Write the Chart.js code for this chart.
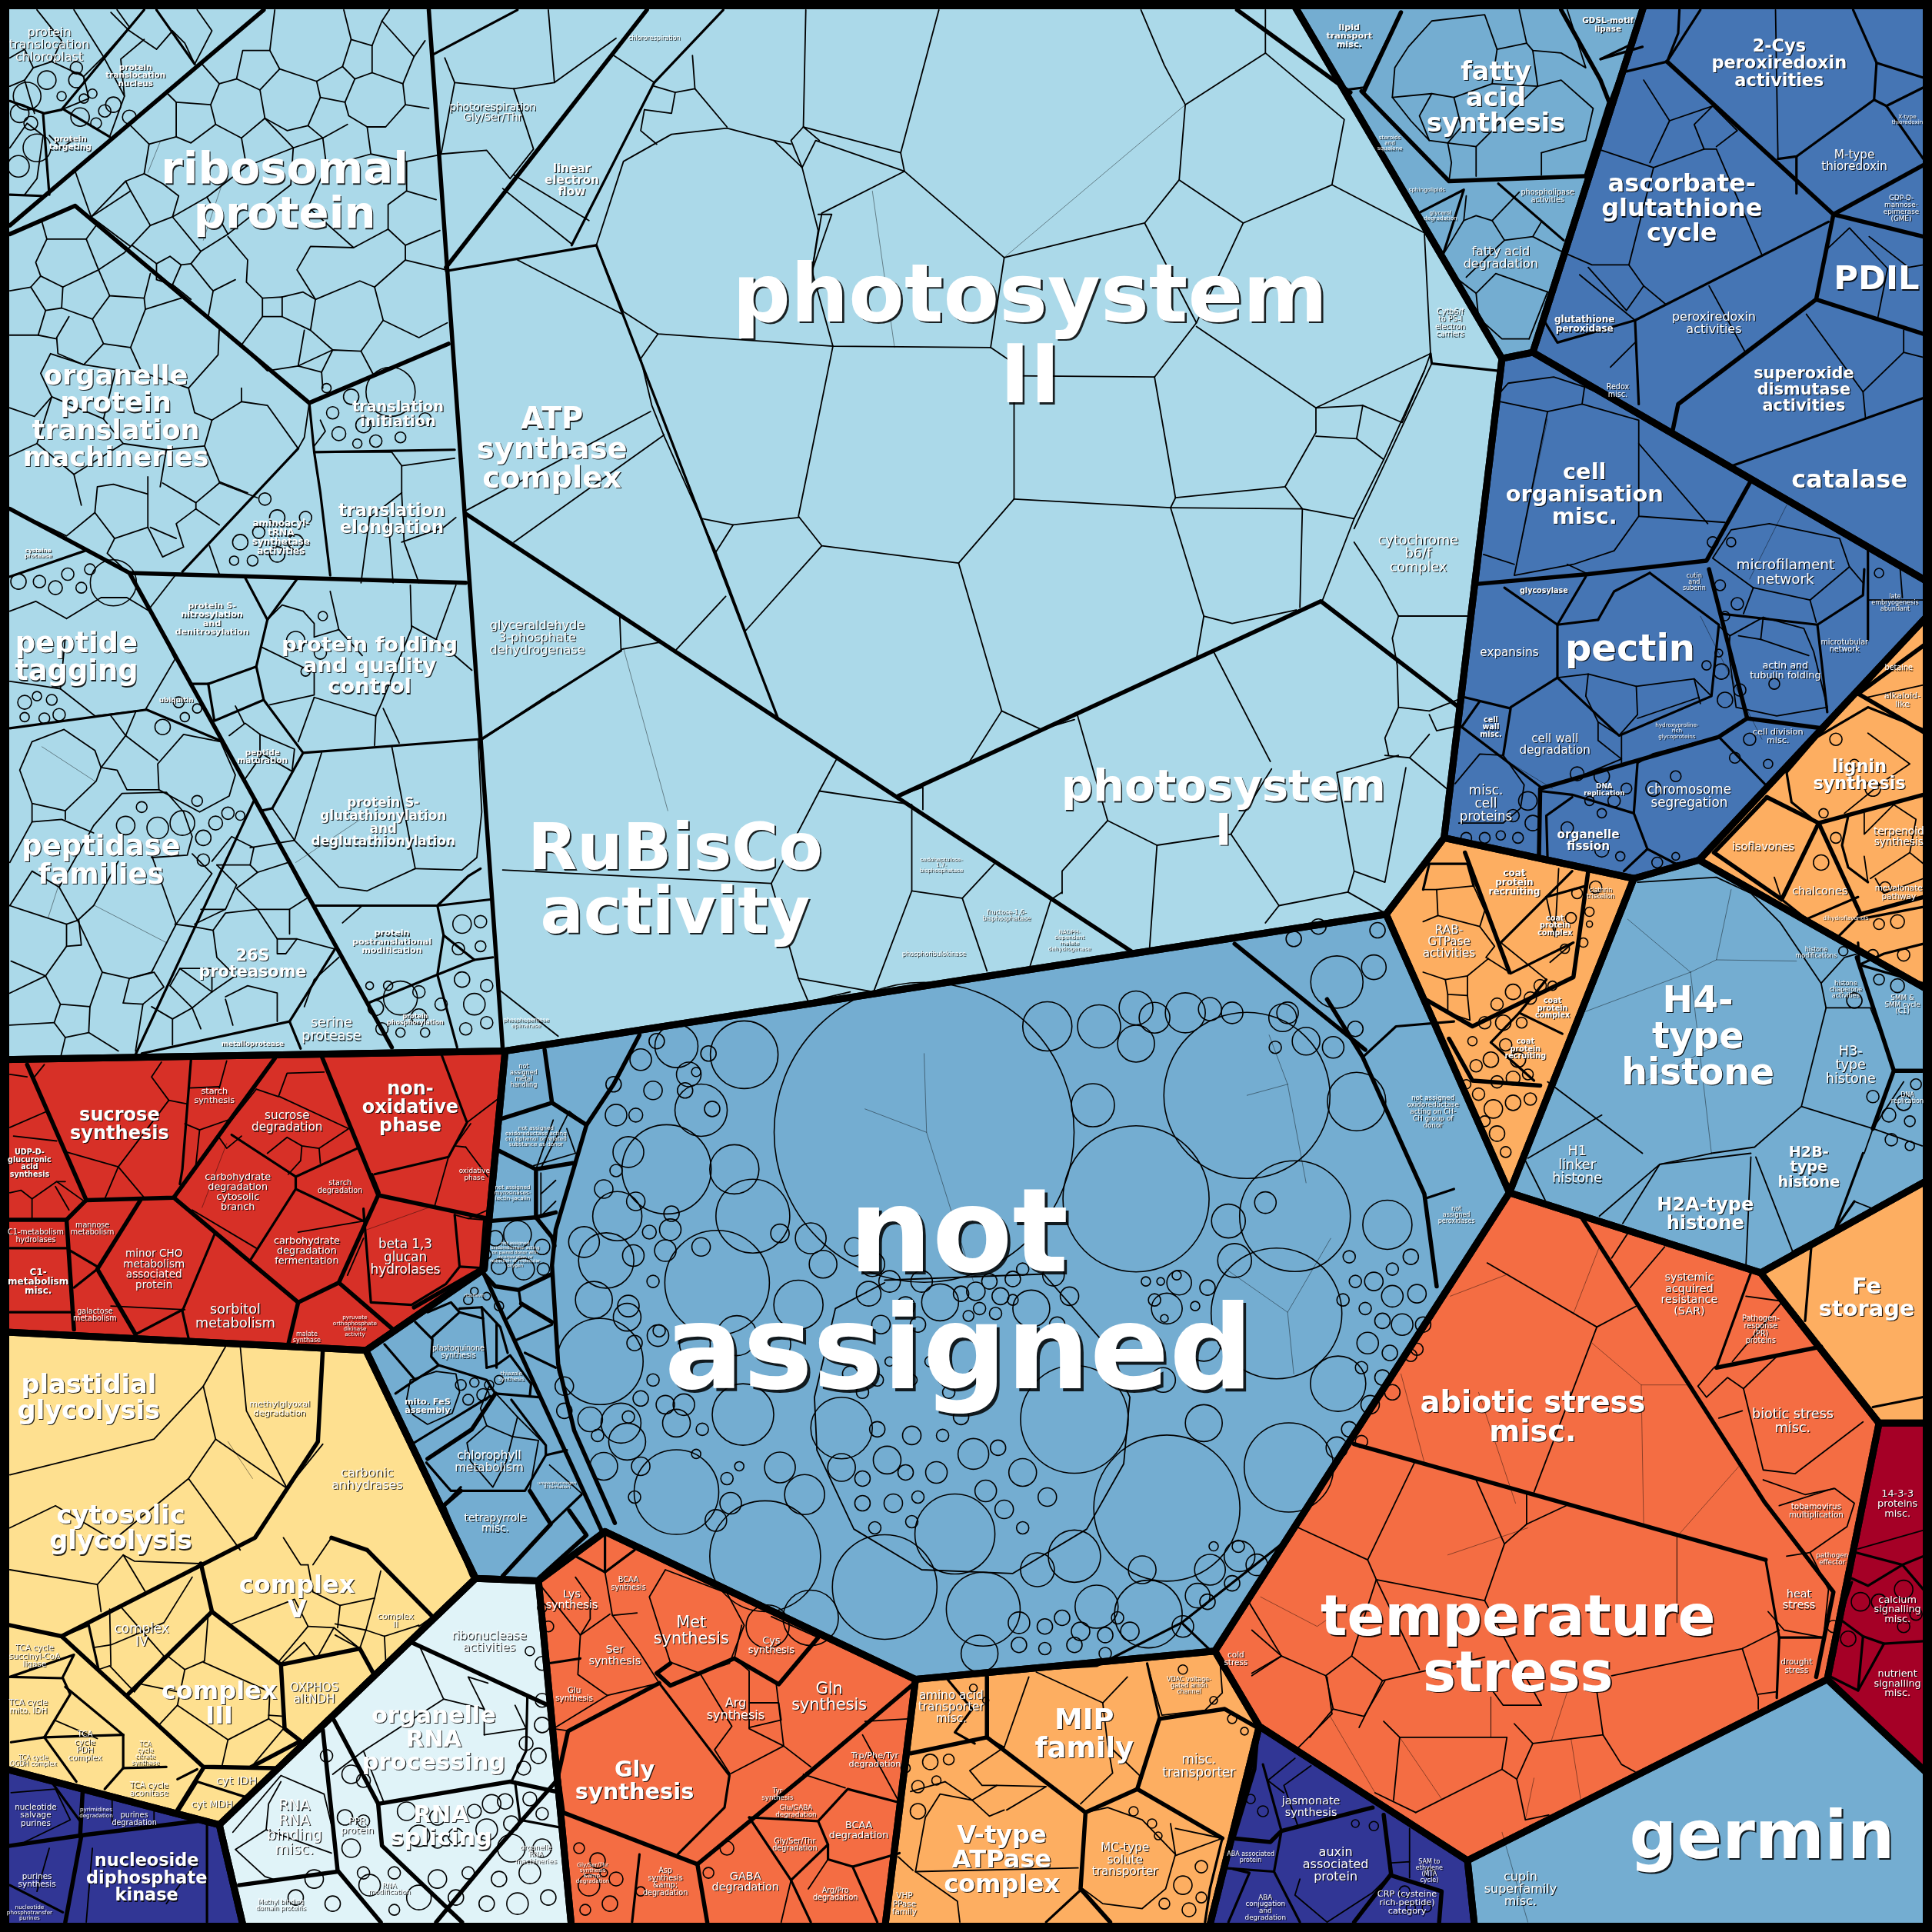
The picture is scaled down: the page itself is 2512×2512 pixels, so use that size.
<!DOCTYPE html>
<html>
<head>
<meta charset="utf-8">
<title>proteomap</title>
<script src="https://cdn.jsdelivr.net/npm/chart.js@4/dist/chart.umd.min.js"></script>
<style>
html, body { margin: 0; padding: 0; background: #000; }
canvas { display: block; }
</style>
</head>
<body>
<canvas id="map" width="2512" height="2512"></canvas>
<script>
// group colours
const groupColors = ['#abd9e9', '#74add1', '#74add1', '#4575b4', '#4575b4', '#fdae61', '#fdae61', '#74add1', '#fdae61',
  '#f46d43', '#a50026', '#74add1', '#d73027', '#fee090', '#313695', '#e0f3f8', '#f46d43', '#fdae61', '#313695'];

// outline of every top level group, x,y,x,y...
const groupShapes = [
  [2,2, 1049,2, 1219,291, 1172,680, 1125,742, 410,853, 2,860],
  [1049,2, 1335,2, 1244,286, 1219,291],
  [410,853, 1125,742, 1225,968, 986,1340, 743,1363, 491,1243, 437,1283, 386,1281, 297,1096, 393,1030],
  [1335,2, 1566,2, 1566,473, 1244,286],
  [1219,291, 1244,286, 1566,473, 1566,498, 1379,698, 1326,713, 1172,680],
  [1172,680, 1326,713, 1225,968, 1125,742],
  [1566,498, 1379,698, 1566,804],
  [1326,713, 1379,698, 1566,804, 1566,957, 1429,1033, 1225,968],
  [1429,1033, 1566,957, 1566,1155, 1525,1155],
  [1225,968, 1429,1033, 1525,1155, 1483,1363, 1191,1510, 1022,1401, 986,1340],
  [1525,1155, 1566,1155, 1566,1441, 1483,1363],
  [1191,1510, 1483,1363, 1566,1441, 1566,1566, 1197,1566],
  [2,860, 410,853, 393,1030, 297,1096, 2,1081],
  [2,1081, 297,1096, 386,1281, 178,1481, 2,1435],
  [2,1435, 178,1481, 198,1566, 2,1566],
  [178,1481, 386,1281, 437,1283, 464,1566, 198,1566],
  [437,1283, 491,1243, 743,1363, 718,1566, 464,1566],
  [743,1363, 986,1340, 1022,1401, 981,1566, 718,1566],
  [1022,1401, 1191,1510, 1197,1566, 981,1566]
];

// second level borders
const heavyLines = [
  [8,183, 214,8], [8,190, 61,167, 251,327, 364,279], [8,413, 105,465, 378,473], [105,465, 318,850],
  [348,8, 408,851], [525,8, 362,217], [378,417, 918,772], [729,646, 1072,488, 1184,574],
  [1105,74, 1176,147, 1287,143], [1107,74, 1137,10], [1267,8, 1299,65, 1306,83, 1287,143],
  [1004,8, 1096,75], [1353,50, 1488,174, 1561,134], [1488,174, 1474,243, 1362,328, 1357,352], [1474,243, 1561,271], [1488,174, 1561,192],
  [1198,474, 1289,466, 1385,455, 1420,392], [1387,462, 1418,583, 1478,591], [1418,583, 1395,598, 1250,640, 1249,695],
  [1508,563, 1561,524], [1508,563, 1561,594], [1476,668, 1510,742, 1561,728], [1434,647, 1476,668, 1561,645], [1434,647, 1391,692, 1446,730, 1476,668],
  [1189,692, 1225,789], [1289,707, 1277,793, 1195,833, 1155,810], [1176,843, 1195,877, 1250,881],
  [1283,987, 1432,1219, 1488,1292, 1474,1361], [1099,1172, 1433,1266], [1393,1110, 1478,1093],
  [1507,777, 1537,869, 1520,916], [1538,869, 1560,869],
  [22,864, 70,974, 141,972, 223,859], [141,972, 242,1057, 275,1041, 307,970, 261,857], [307,970, 396,989], [275,1041, 319,1079], [242,1057, 234,1091], [336,1061, 390,1030],
  [70,974, 54,990, 7,990], [54,990, 60,1079], [114,974, 79,1030, 110,1083],
  [50,1328, 207,1248, 258,1170, 262,1095], [8,1319, 50,1328, 165,1434, 224,1435], [165,1435, 144,1469], [172,1308, 228,1351, 231,1403, 244,1413, 204,1434], [172,1308, 103,1376], [172,1308, 163,1269], [228,1351, 292,1338, 303,1358],
  [269,1248, 298,1258, 351,1312],
  [8,1498, 70,1489, 160,1478], [66,1490, 53,1560], [67,1455, 65,1490],
  [334,1333, 445,1384], [262,1404, 274,1518, 309,1560], [194,1530, 274,1519], [271,1396, 307,1464, 414,1446, 451,1454], [307,1465, 310,1498, 375,1560], [451,1446, 402,1502, 354,1560],
  [566,1513, 656,1439, 741,1367], [457,1471, 566,1513, 574,1560], [535,1366, 461,1405, 453,1441, 457,1471], [544,1350, 533,1358, 544,1368, 568,1358, 596,1346, 632,1367, 664,1329],
  [801,1361, 801,1410, 739,1423], [801,1410, 881,1471, 877,1533, 901,1560], [923,1452, 992,1492], [923,1452, 941,1395, 994,1387, 1022,1403], [881,1471, 923,1452],
  [1021,1400, 1018,1436, 1001,1492, 1031,1495, 1040,1486, 1114,1467], [1123,1473, 1129,1521, 1099,1560], [1129,1522, 1170,1535, 1168,1560],
  [519,840, 498,880, 476,913, 451,998, 448,1027, 453,1107, 466,1161, 499,1236], [1077,811, 1106,858, 1156,969, 1166,1044],
  [391,1030, 489,1244], [442,852, 448,895, 407,908], [448,895, 476,913], [405,934, 435,949, 465,944], [435,951, 435,988], [397,991, 435,988, 448,1004, 450,1011], [435,988, 451,984], [391,1032, 402,1044, 421,1047, 448,1034], [423,1058, 448,1073], [347,1184, 383,1160, 402,1131], [374,1210, 360,1222, 383,1279], [430,1210, 447,1237, 408,1279], [462,1226, 476,1246, 436,1282],
  [1002,766, 1108,852]
];

// third level borders
const mediumLines = [
  [127,8, 158,52], [52,89, 89,111], [50,89, 36,92, 8,82], [35,93, 40,158], [8,158, 34,159], [50,89, 117,8],
  [251,327, 255,367, 369,365], [255,367, 260,400, 268,467], [242,364, 148,464], [8,591, 119,576, 181,602], [206,650, 109,858],
  [8,468, 69,447], [241,470, 217,503, 208,541, 214,568, 246,611, 221,656, 212,658], [199,469, 217,503], [208,541, 169,555, 156,555], [214,568, 174,585, 169,555],
  [246,611, 388,600], [391,600, 449,562], [255,735, 355,735, 380,711, 390,705], [355,735, 360,759, 355,791, 299,814], [360,759, 385,779, 400,777], [355,735, 398,730], [355,791, 371,850], [355,791, 385,779], [272,770, 235,829, 115,855], [235,829, 244,851],
  [484,199, 631,582], [362,220, 484,199], [587,8, 531,67, 464,199], [350,45, 420,8], [504,528, 392,599], [1161,287, 1162,295, 1216,301],
  [1092,73, 1107,71, 1122,40, 1137,10], [1153,172, 1188,154, 1171,207], [1216,149, 1269,195], [1307,81, 1324,36, 1299,48], [1299,48, 1333,38],
  [1353,50, 1380,8], [1353,50, 1362,27, 1363,8], [1353,50, 1320,58], [1443,129, 1458,127, 1521,81, 1523,51, 1504,8], [1458,127, 1458,157], [1521,81, 1531,86, 1561,129], [1523,51, 1561,63], [1531,86, 1561,71],
  [1406,378, 1561,323], [1327,260, 1484,180], [1327,260, 1330,328], [1253,260, 1264,278, 1327,260],
  [1221,477, 1264,507, 1287,468], [1264,507, 1264,550, 1314,597, 1389,565, 1395,507, 1339,465], [1297,503, 1310,480, 1339,465], [1264,507, 1297,503], [1226,574, 1264,550], [1185,589, 1252,640], [1189,566, 1226,575, 1220,613], [1187,589, 1201,569],
  [1396,498, 1475,507, 1483,578], [1475,507, 1512,483, 1513,462], [1516,443, 1516,519], [1250,642, 1276,645, 1326,660, 1329,619], [1326,660, 1337,689, 1360,701, 1379,698], [1329,619, 1342,612, 1395,598, 1433,637], [1276,647, 1255,662, 1256,698], [1337,689, 1318,707],
  [1255,728, 1218,765], [1276,707, 1255,728, 1287,719], [1226,790, 1277,765], [1233,822, 1268,839], [1210,846, 1233,822, 1255,795], [1210,846, 1245,877], [1160,701, 1191,701, 1196,719], [1160,701, 1155,722],
  [1465,746, 1492,760, 1510,742], [1446,730, 1466,746, 1508,728], [1509,746, 1561,736], [1509,783, 1529,774, 1561,766], [1508,765, 1509,783, 1561,798], [1500,662, 1495,686, 1500,704, 1516,716],
  [1450,627, 1454,651, 1475,668], [1450,627, 1475,598, 1516,574, 1561,592],
  [1455,1016, 1489,998, 1512,936], [1489,998, 1505,975], [1470,1012, 1465,1072], [1520,1142, 1560,1134], [1421,1033, 1393,1110],
  [1433,1266, 1444,1329, 1442,1378], [1444,1329, 1480,1329], [1506,1260, 1544,1270, 1561,1263], [1544,1270, 1516,1287, 1503,1281], [1544,1270, 1561,1290], [1484,1360, 1508,1372, 1529,1334, 1561,1332], [1529,1334, 1512,1328, 1493,1314], [1512,1328, 1508,1372], [1503,1284, 1493,1314, 1487,1338],
  [1025,1432, 1040,1486], [1040,1486, 1034,1519, 1055,1560], [1001,1492, 992,1516, 1034,1519], [1001,1517, 1014,1520, 997,1560],
  [8,1013, 54,1013], [8,1065, 60,1065], [79,1030, 60,1045], [57,1015, 79,1028], [148,1063, 110,1083], [174,1002, 148,1064, 153,1086], [188,921, 240,955, 290,932], [240,955, 240,965, 295,991], [240,965, 203,1023], [304,953, 364,939, 379,911, 358,855], [302,953, 308,968],
  [369,986, 373,1028, 362,1042, 334,1059, 301,1057, 295,981], [373,1028, 390,1029, 393,990], [155,860, 148,949, 146,961],
  [50,1328, 72,1319, 80,1355], [100,1435, 135,1434], [100,1435, 85,1452], [100,1408, 100,1435], [100,1408, 36,1410, 9,1414], [36,1410, 62,1446], [36,1410, 45,1395, 57,1375, 51,1362, 9,1361], [51,1361, 60,1343, 8,1361], [53,1369, 100,1408], [144,1444, 160,1436], [201,1459, 160,1446, 145,1470], [201,1459, 224,1436],
  [41,1445, 65,1478], [168,1481, 168,1560], [8,1530, 51,1552], [428,1377, 427,1421, 415,1446], [418,1446, 422,1477], [422,1477, 454,1483],
  [467,1263, 491,1276, 515,1258], [491,1243, 491,1276], [445,1350, 471,1346], [550,1505, 588,1467, 592,1441, 535,1366], [519,1505, 513,1560],
  [608,1475, 664,1478, 688,1452, 730,1463], [664,1478, 672,1497, 642,1526, 608,1475], [672,1497, 672,1509, 692,1515, 730,1504], [692,1515, 712,1560], [642,1526, 658,1560],
  [769,1363, 789,1387, 775,1406, 791,1415], [992,1492, 982,1533, 978,1560], [877,1534, 849,1560], [931,1350, 941,1395],
  // not assigned, left block and lower ring
  [421,1047, 423,1060, 412,1070], [448,1075, 418,1088], [451,1110, 426,1098], [312,1091, 337,1120, 321,1131], [337,1073, 351,1087, 350,1101, 356,1108, 337,1120], [351,1085, 373,1065, 392,1070, 395,1110], [356,1108, 395,1120, 402,1131, 437,1134], [373,1065, 366,1057, 347,1065], [392,1070, 391,1061, 373,1062], [391,1061, 406,1077, 412,1098], [395,1110, 403,1108, 414,1100, 431,1123, 430,1133], [403,1075, 403,1110], [336,1171, 398,1133], [346,1187, 366,1210, 426,1210, 443,1181, 443,1173, 415,1136], [360,1222, 374,1207], [447,1237, 472,1213], [443,1181, 460,1177],
  [1039,1254, 959,1317, 890,1352, 790,1358], [959,1317, 985,1342], [1106,858, 1133,833, 1180,829], [1156,973, 1180,965]
];

// ordinary cell walls
const cellLines = [
  // ribosomal protein
  [219,41, 227,56, 257,66, 278,54, 285,32, 279,8], [223,8, 219,41, 197,41, 192,64, 178,68, 163,51], [192,64, 211,73, 227,56], [211,73, 215,96, 233,106, 250,102, 260,79, 257,66],
  [178,68, 171,85, 175,101, 196,112, 215,96], [143,83, 171,85], [136,76, 143,83, 143,111, 155,116, 175,101], [121,117, 143,111], [106,102, 121,117, 117,141, 102,147, 74,176, 61,139],
  [102,147, 106,155, 74,176], [106,155, 122,183, 106,200, 74,176], [117,141, 132,149, 145,159, 140,176, 122,183], [140,176, 168,160, 185,190, 163,204, 140,176], [260,79, 280,83, 288,64, 278,54],
  [285,32, 302,37, 310,17, 316,8], [310,17, 336,46, 327,68, 302,59, 288,64], [302,37, 302,59], [280,83, 283,94, 298,103, 313,103, 329,85, 327,68], [250,102, 262,112, 282,101], [298,103, 301,125, 330,131, 355,126], [329,85, 348,88], [336,46, 345,33],
  [330,131, 330,155, 354,162], [330,155, 315,166, 315,186, 329,199, 357,187], [315,186, 287,201, 252,200, 241,219, 256,243, 292,228, 304,233, 329,211, 362,219], [329,199, 329,211], [304,233, 311,260, 340,274, 363,262],
  [311,260, 293,285, 270,284, 261,302], [293,285, 303,304], [256,243, 252,268, 229,257, 213,257, 196,280], [252,268, 270,284, 242,297, 247,268], [242,297, 217,301, 195,280], [242,297, 261,302, 262,315],
  [213,257, 213,242, 229,241, 229,257], [191,227, 173,236, 169,257], [229,241, 246,237, 256,243], [185,192, 201,211, 200,229, 213,242], [163,204, 155,214, 171,234, 173,236], [155,214, 147,215, 140,231, 155,243], [127,214, 138,208, 147,215], [107,199, 127,214, 127,227, 140,231],
  [196,112, 200,135, 168,160], [215,96, 238,120, 262,112], [200,135, 238,120], [238,120, 236,150, 185,190], [262,112, 265,135, 301,125], [265,135, 250,168, 287,201],
  // organelle translation
  [29,213, 38,194, 70,194, 80,219, 51,233, 33,224, 29,213], [38,194, 34,180], [70,194, 78,183, 74,176], [80,219, 101,205, 106,200], [80,219, 89,240, 117,242, 122,222], [51,233, 50,250, 75,259, 89,240],
  [25,233, 37,252, 50,250], [8,236, 25,233, 33,224], [75,259, 84,279, 106,282, 118,251, 117,242], [118,251, 150,241], [106,282, 115,302, 153,315, 177,288, 178,266], [56,257, 46,274, 47,287, 68,296, 84,279], [37,252, 31,272, 46,275], [8,272, 31,272],
  [68,296, 41,287, 33,303, 42,322, 28,338, 8,331], [153,315, 158,335, 172,341, 196,326, 196,315], [196,326, 217,329, 242,364, 247,355, 251,327], [172,341, 166,362, 178,391, 201,400], [68,296, 94,300, 84,340, 42,322], [115,302, 94,300], [84,340, 100,360, 135,365, 166,362], [42,322, 30,360, 60,385, 100,360], [8,370, 30,360], [135,365, 130,395], [60,385, 66,410],
  // top left
  [8,47, 20,40, 27,55, 42,50, 50,33, 30,8], [42,50, 68,62, 84,46, 60,8], [84,46, 105,22, 95,8], [68,62, 72,80, 50,89], [8,70, 20,65, 27,55], [20,65, 28,92], [84,46, 101,78, 98,48, 117,32], [101,78, 89,111],
  [90,10, 105,25, 127,40, 140,25, 150,35, 158,52], [160,8, 172,25, 158,52], [8,120, 22,100, 35,110, 30,145, 20,158], [40,110, 50,120, 62,112],
  // translation init and elongation
  [326,378, 369,372], [257,367, 318,367, 326,378, 326,400], [260,341, 264,350, 255,362], [120,387, 120,428, 93,437, 77,416, 54,435, 29,423], [77,416, 79,395, 92,393, 120,401], [120,428, 132,452, 149,444, 143,425, 159,413, 178,426], [122,428, 143,437],
  [159,413, 159,408, 132,392], [178,392, 159,408], [178,392, 209,404], [93,437, 87,449, 103,464], [170,443, 178,466], [326,400, 328,440, 340,473], [300,420, 293,473], [315,420, 319,473], [300,420, 326,400], [326,440, 360,428, 370,420],
  // peptide and peptidase
  [54,502, 82,485, 103,485, 123,497, 142,535, 118,576, 77,581, 49,559, 53,517], [54,502, 29,488, 8,496], [49,559, 29,556, 8,553], [16,625, 26,602, 52,592, 77,609, 82,623, 78,634, 53,658, 26,652, 16,625],
  [128,620, 149,596, 179,602, 191,629, 186,646, 162,659, 129,641, 128,620], [76,670, 99,644, 135,643, 149,659, 156,679, 152,694, 123,696], [123,694, 143,750, 123,789, 105,794, 83,789, 63,747, 76,735, 96,699],
  [63,747, 54,750, 17,738, 8,735], [54,750, 54,768, 37,792, 9,780], [64,747, 66,767, 54,768], [37,792, 49,815, 44,830, 53,842, 72,838, 73,817, 49,815], [83,789, 73,817], [105,794, 100,814], [105,794, 125,789, 133,801, 116,815, 100,814],
  [8,806, 37,792], [8,832, 44,830], [53,842, 49,859], [72,838, 96,853], [116,815, 110,853], [26,652, 26,667, 50,665, 76,676], [8,700, 26,667], [53,658, 53,665], [156,693, 172,709, 143,750], [82,623, 102,597, 90,581], [102,597, 110,578], [102,597, 128,617], [83,623, 95,625, 103,641, 129,641],
  [8,735, 26,707, 48,720, 63,747], [48,720, 76,670],
  // 26S and serine
  [142,750, 156,752, 173,755, 183,741, 209,738, 235,738, 249,729], [173,755, 176,777, 191,792, 172,805, 146,786], [209,738, 225,762, 241,762, 271,770], [225,762, 225,774, 232,774, 241,762], [235,738, 235,758],
  [172,805, 172,786, 146,786, 138,800], [172,805, 156,818, 163,835], [183,809, 201,800, 225,806, 225,829], [183,811, 189,832], [138,800, 156,818, 140,827, 123,817], [140,827, 140,848], [163,738, 183,738, 192,718, 176,702],
  [176,702, 203,702, 206,688, 188,679, 172,699], [203,702, 209,708, 192,721, 209,738], [209,708, 234,700, 248,727], [183,738, 158,750], [186,597, 199,587, 211,596, 239,608, 237,626, 213,612, 199,632], [211,596, 211,612], [198,587, 191,573], [247,817, 255,795, 275,777], [294,735, 278,749],
  // protein folding
  [218,502, 229,491, 246,496, 255,506, 255,517], [212,525, 255,546, 255,564, 219,572], [255,566, 305,581, 310,570, 334,510, 333,475], [275,511, 294,532], [334,508, 354,519, 370,475], [354,519, 383,544], [305,581, 304,605], [311,575, 324,603], [255,566, 242,602],
  [261,611, 239,682, 275,720, 298,723, 337,705, 318,606], [337,705, 375,706, 387,696, 391,659, 388,600], [239,682, 203,688], [239,682, 221,656], [268,480, 275,511, 255,517], [122,493, 143,466], [199,469, 217,503],
  // photosystem II
  [654,8, 652,103, 731,124, 762,8], [734,139, 815,209, 929,181, 957,146, 962,85, 945,53, 926,8], [962,85, 1027,43, 1091,97, 1081,150, 1009,181, 957,146], [1027,43, 1027,8], [1009,181, 988,226, 971,262], [971,265, 1068,331, 1161,287, 1156,189, 1081,150], [929,181, 971,262, 937,306, 954,404, 1043,395, 1068,351, 1068,331], [937,306, 823,305],
  [734,139, 667,173, 659,220, 676,281, 804,282, 823,295, 823,405], [815,209, 804,282], [823,405, 950,412, 954,404], [823,405, 778,457, 667,443, 648,419, 676,281], [648,420, 595,426, 570,421], [667,443, 605,512, 581,448, 595,426], [778,457, 813,577, 787,618], [813,577, 845,592, 872,584], [950,412, 977,500, 971,535], [1057,413, 1099,421, 1123,373, 1101,356, 1068,354], [950,412, 1057,413, 1043,395], [1068,331, 1106,329, 1101,356], [1057,413, 1055,493], [1106,329, 1138,343, 1156,301, 1161,287], [1123,373, 1156,301], [1099,421, 1073,488], [977,500, 1000,506, 1052,495],
  [1099,440, 1120,472, 1135,500, 1191,500], [1135,500, 1130,518, 1134,540, 1135,574, 1160,577, 1183,568], [1162,295, 1099,429], [985,529, 1031,618], [874,579, 899,666], [899,666, 862,707, 862,725], [899,666, 939,686, 933,769], [939,686, 999,677, 1032,624], [999,677, 1038,735, 1094,724, 1124,741], [1135,613, 1085,627, 1099,707, 1094,724], [1124,613, 1144,615, 1160,596], [1135,574, 1124,599, 1127,613], [1160,580, 1166,593, 1180,590], [1144,615, 1174,640], [1099,707, 1124,716, 1141,623], [1038,735, 1027,749],
  [484,199, 506,253, 534,271, 676,281], [659,220, 664,187, 651,136, 628,114, 590,104, 545,109, 506,131, 484,199], [734,139, 662,114, 651,136], [652,103, 642,114, 651,136], [731,124, 734,139], [628,114, 642,117], [652,103, 665,114], [664,174, 675,174, 659,220],
  // ATP synthase, photorespiration
  [534,271, 520,291, 529,329, 539,354, 581,448], [531,67, 498,45], [562,45, 564,72, 548,75, 531,70], [564,72, 590,103], [523,89, 520,106, 533,117], [548,75, 545,92, 523,89], [361,47, 369,67, 417,72], [445,8, 450,67, 417,72], [450,67, 500,31], [358,125, 395,122, 414,145, 433,121, 417,72], [408,153, 464,198], [417,142, 478,179], [369,67, 358,125],
  [420,211, 505,255], [417,440, 539,353], [377,415, 528,334], [589,484, 549,527], [503,501, 504,527, 537,521], [408,706, 626,717, 665,642, 679,616], [626,717, 648,794, 709,805], [665,642, 740,653, 740,723, 709,805], [740,723, 781,729, 801,788], [781,729, 807,701], [853,730, 836,784], [853,730, 862,724], [729,646, 749,639, 749,657], [406,804, 453,841], [648,794, 656,813, 690,805],
  // fatty acid
  [1143,38, 1162,17, 1205,12, 1215,40, 1211,68, 1180,79, 1162,76, 1130,79, 1132,55, 1143,38], [1215,40, 1239,35, 1233,8], [1239,35, 1244,41, 1267,43, 1287,55, 1272,8], [1248,70, 1267,65, 1293,88, 1287,114, 1251,124], [1251,124, 1251,142], [1198,119, 1211,106, 1248,70, 1244,41], [1198,119, 1198,143], [1162,76, 1152,94, 1160,114, 1175,116, 1186,103, 1180,79], [1175,116, 1178,132, 1176,147], [1198,119, 1175,116], [1160,114, 1145,98, 1130,79], [1211,68, 1248,70],
  [1190,159, 1188,179, 1171,207], [1188,179, 1198,175, 1211,179, 1233,156], [1211,179, 1221,195, 1244,192, 1251,180], [1244,192, 1269,205], [1221,195, 1190,225], [1181,225, 1198,238, 1214,222, 1256,237], [1198,238, 1200,258, 1219,275, 1241,275], [1256,237, 1241,275],
  // redox
  [1334,65, 1355,98, 1339,132], [1355,98, 1390,86, 1410,106, 1393,119], [1390,86, 1375,101, 1383,121], [1342,136, 1383,121, 1393,121, 1430,207], [1342,136, 1322,215, 1292,215, 1269,205], [1322,215, 1334,232, 1352,247], [1334,232, 1320,252, 1289,217], [1297,121, 1342,136], [1282,223, 1327,260], [1387,232, 1416,285], [1307,298, 1327,278], [1441,8, 1443,129],
  [1466,255, 1512,318, 1514,339], [1512,318, 1545,286], [1545,268, 1545,286, 1561,290], [1483,202, 1501,185, 1532,218, 1524,258], [1517,192, 1549,217, 1561,215],
  // cell
  [1181,636, 1201,612, 1220,613, 1237,637, 1234,656, 1220,668, 1184,668], [1264,550, 1289,547, 1328,557, 1375,551, 1389,565], [1328,557, 1329,580, 1314,597], [1287,565, 1297,586, 1314,597], [1287,565, 1289,547], [1329,583, 1379,566], [1375,551, 1380,571], [1297,586, 1297,601, 1316,616, 1287,628], [1316,597, 1316,619],
  [1404,516, 1431,501, 1464,510, 1472,529, 1483,574, 1442,581, 1409,574, 1403,529, 1404,516], [1429,519, 1431,501], [1411,516, 1429,519, 1468,532], [1390,453, 1405,430, 1436,425, 1493,437, 1501,460, 1469,487, 1423,477, 1390,453], [1423,477, 1415,498], [1469,487, 1474,505], [1501,460, 1512,473], [1517,487, 1561,487], [1542,460, 1544,485],
  [1218,326, 1256,334, 1284,328, 1330,341, 1330,419, 1400,424], [1218,318, 1224,311, 1261,306, 1286,314, 1284,328], [1286,314, 1330,334], [1330,419, 1310,447, 1277,458, 1229,467, 1256,334], [1204,450, 1229,458], [1395,508, 1404,516], [1272,458, 1289,466], [1330,360, 1386,425],
  // vesicle
  [1155,722, 1166,722, 1196,719, 1205,739, 1201,752, 1213,768, 1206,777, 1225,789], [1166,722, 1167,743, 1155,748], [1167,743, 1201,752], [1208,778, 1191,792, 1173,795, 1155,789], [1173,795, 1175,807, 1191,808, 1191,792], [1175,807, 1175,822, 1193,828, 1191,808], [1255,728, 1262,760], [1218,765, 1255,795], [1265,705, 1262,760], [1258,781, 1277,765], [1262,800, 1277,793],
  // specialised
  [1446,730, 1440,712], [1516,595, 1550,620, 1529,634, 1497,660], [1513,660, 1513,677, 1537,653, 1555,665, 1550,692, 1518,713], [1513,695, 1516,716], [1550,692, 1561,701], [1522,713, 1529,725, 1561,713], [1515,566, 1561,556], [1490,576, 1508,563],
  // histones
  [1329,716, 1393,712, 1421,725, 1445,749, 1478,798, 1482,818, 1462,898, 1424,931, 1389,936], [1256,878, 1333,936], [1462,898, 1520,916, 1513,936], [1482,818, 1518,818, 1538,869], [1478,798, 1497,777, 1508,774], [1347,945, 1298,987], [1347,945, 1421,936], [1347,945, 1317,993], [1235,936, 1254,974], [1421,939, 1417,1027], [1425,939, 1455,1016], [1505,975, 1520,981], [1389,936, 1347,945], [1300,905, 1240,940], [1520,916, 1545,878], [1520,916, 1560,930],
  // stress
  [1323,1045, 1351,1012], [1308,1021, 1321,1001], [1296,1077, 1207,1025], [1296,1077, 1330,1059], [1296,1077, 1245,1211], [1148,1187, 1110,1266, 1117,1282, 1205,1299, 1221,1253, 1198,1201], [1221,1253, 1239,1237, 1271,1222], [1239,1211, 1239,1237], [1054,1240, 1110,1266], [1444,1323, 1414,1338, 1308,1360], [1414,1338, 1427,1378, 1427,1387], [1427,1375, 1442,1373],
  [1117,1282, 1097,1344, 1122,1364, 1103,1402], [1014,1301, 1040,1344, 1016,1358], [1040,1344, 1076,1360, 1097,1344], [1076,1360, 1082,1387, 1063,1410], [1082,1387, 1107,1393, 1124,1364], [1117,1282, 1152,1355], [1122,1364, 1205,1345], [1226,1339, 1251,1384, 1220,1384, 1209,1369], [1205,1299, 1226,1339],
  [1123,1397, 1136,1410, 1131,1461], [1136,1410, 1223,1410, 1219,1436, 1149,1471], [1219,1436, 1231,1444, 1244,1415, 1301,1408], [1149,1471, 1116,1455], [1231,1444, 1238,1477, 1257,1473], [1301,1408, 1316,1432, 1327,1438], [1301,1408, 1296,1373], [1229,1399, 1244,1415], [1081,1391, 1053,1419], [1016,1360, 1040,1344], [1077,1361, 1081,1391], [1040,1344, 1016,1323],
  [1415,1127, 1431,1193, 1457,1196, 1512,1154], [1415,1127, 1444,1099], [1431,1201, 1465,1213, 1489,1208, 1505,1220, 1499,1239, 1469,1260], [1444,1222, 1488,1208], [1391,1110, 1378,1125, 1385,1134, 1402,1118, 1415,1127], [1395,1151, 1414,1145], [1446,1057, 1406,1105], [1417,1052, 1446,1056], [1450,1263, 1469,1260, 1484,1290, 1480,1329, 1448,1323, 1435,1308], [1508,1257, 1561,1242],
  // hormones
  [1051,1427, 1029,1445, 1042,1455], [1064,1433, 1042,1449, 1053,1481], [1055,1525, 1051,1538, 1077,1560, 1114,1536, 1129,1521], [1127,1512, 1144,1511, 1144,1524], [1144,1484, 1144,1511],
  // red group
  [28,874, 36,864], [96,947, 54,935], [96,947, 85,973], [96,947, 117,972], [96,947, 137,893, 152,896], [137,893, 123,874, 131,862], [153,883, 178,882], [162,917, 185,909], [150,912, 162,917, 159,945], [178,883, 184,861], [208,884, 226,890, 233,871, 263,870], [188,909, 208,884], [227,890, 283,916, 259,932, 245,930, 233,923, 217,936], [245,930, 244,942, 234,953], [259,932, 260,944],
  [156,982, 208,1013], [177,922, 184,932, 196,922], [203,1023, 242,1056], [8,872, 22,874], [38,902, 8,915], [11,922, 46,926], [46,959, 26,973, 17,966, 8,968], [53,959, 46,959, 67,974], [26,973, 26,989], [45,963, 56,982], [369,986, 380,989, 393,990], [378,931, 396,955], [382,912, 369,930, 378,931], [379,911, 404,892], [364,939, 353,978], [396,982, 380,989], [295,1005, 282,1035], [242,1000, 295,991, 295,981], [90,1060, 150,1063],
  // yellow group
  [8,1197, 125,1168, 165,1125, 183,1093], [165,1125, 175,1168, 153,1200, 92,1250, 45,1222, 8,1240], [175,1168, 233,1208], [233,1208, 200,1145, 195,1093], [262,1172, 233,1208], [153,1200, 195,1258], [8,1274, 79,1286, 100,1262, 109,1267, 162,1269], [79,1286, 82,1308], [100,1262, 118,1292], [89,1306, 90,1352], [77,1337, 90,1335, 133,1317, 156,1280], [98,1304, 133,1344, 109,1373], [80,1355, 89,1352, 109,1373], [44,1396, 79,1411],
  [169,1310, 166,1348, 150,1355, 144,1384, 185,1412, 218,1395, 219,1373, 165,1349], [136,1344, 150,1355], [144,1384, 129,1400], [115,1367, 144,1373], [185,1412, 180,1434], [218,1395, 231,1403], [218,1392, 231,1393], [230,1403, 204,1434], [188,1318, 239,1298, 250,1320, 225,1350], [250,1320, 271,1321, 292,1338, 272,1327], [271,1321, 257,1346, 247,1333, 227,1351], [250,1270, 244,1270, 230,1248], [254,1270, 269,1248], [250,1270, 254,1292, 276,1303, 304,1297], [276,1303, 274,1321], [272,1318, 297,1323], [304,1297, 297,1323, 292,1338], [309,1275, 304,1297], [312,1328, 340,1319], [312,1328, 297,1323], [312,1328, 313,1347], [340,1320, 351,1312],
  // RNA
  [340,1335, 360,1379, 295,1421, 312,1464], [360,1379, 393,1387, 380,1361, 396,1366], [393,1408, 427,1403, 418,1384], [393,1387, 393,1408], [189,1487, 228,1441, 263,1456, 269,1481], [228,1446, 218,1464, 216,1485, 191,1501, 215,1523, 224,1526], [216,1485, 269,1504], [295,1421, 270,1440],
  // nucleotides
  [9,1455, 45,1452, 57,1477, 20,1495], [91,1479, 91,1456], [125,1466, 125,1478], [40,1500, 30,1535], [75,1500, 70,1560], [135,1545, 160,1510],
  // amino acids
  [540,1274, 590,1293, 604,1319, 592,1350, 568,1358, 544,1349, 527,1296, 540,1274], [495,1310, 471,1327, 469,1359, 493,1376, 535,1366, 519,1341, 497,1311], [517,1309, 497,1311, 491,1276], [439,1287, 471,1327], [467,1280, 479,1297, 479,1314, 471,1327], [493,1376, 449,1403, 463,1405],
  [630,1367, 636,1417, 592,1440], [636,1417, 658,1434], [568,1358, 594,1401, 580,1420, 592,1439], [596,1346, 608,1356, 608,1403, 636,1417], [608,1382, 632,1382, 634,1396, 608,1402], [702,1397, 737,1395], [684,1414, 672,1427, 654,1439], [700,1408, 730,1463], [652,1440, 686,1451], [602,1319, 596,1346], [626,1312, 664,1329], [672,1509, 656,1533], [642,1526, 634,1560],
  // transport
  [801,1410, 815,1418, 835,1361], [841,1357, 895,1382, 915,1361], [895,1382, 899,1416, 925,1441, 923,1452], [899,1416, 903,1439, 877,1464], [815,1418, 787,1437, 797,1449, 809,1449, 849,1450, 817,1469], [809,1449, 789,1461, 803,1474, 815,1469], [767,1446, 789,1461, 763,1456, 751,1475, 743,1519], [743,1519, 875,1516], [743,1519, 777,1543, 779,1560], [741,1518, 729,1507], [881,1471, 899,1467, 927,1477, 954,1505, 946,1533, 927,1549, 895,1545, 879,1533], [954,1484, 992,1492], [992,1492, 954,1506], [950,1480, 954,1505], [931,1350, 937,1372, 943,1392, 978,1388, 992,1374, 990,1346], [739,1454, 767,1446],
  // not assigned, left block and inner ring
  [333,1120, 354,1113, 370,1115, 373,1130, 367,1147, 347,1156, 335,1148, 330,1136, 333,1120], [395,1157, 379,1171, 382,1186, 400,1207, 411,1186, 416,1166], [420,1150, 437,1167, 443,1173], [416,1166, 437,1169, 430,1209], [446,1189, 472,1212], [397,1125, 420,1150, 416,1166, 395,1157, 390,1143, 397,1125], [435,949, 449,909], [433,946, 467,936, 460,916], [439,952, 439,987, 451,975], [451,958, 439,969], [476,913, 462,902, 439,948],
  [718,1041, 678,1062, 661,1134, 663,1177, 693,1241, 748,1274, 822,1277, 882,1241, 912,1188, 917,1134, 897,1091, 847,1034, 718,1039]
];

// hair thin subdivisions
const hairLines = [
  [815,209, 962,85], [708,155, 726,282], [506,526, 542,658], [1372,789, 1393,779, 1405,722], [1372,789, 1321,746], [1372,789, 1284,822], [1372,789, 1389,936], [1393,779, 1458,780], [1298,1012, 1277,1066], [1292,1090, 1332,1124, 1372,1124], [1332,1124, 1334,1239], [1414,1187, 1362,1246], [1137,1115, 1156,1187], [1177,1052, 1224,1034], [1361,1246, 1361,1317], [1023,1296, 1069,1320, 1095,1302], [1136,1410, 1170,1460], [1275,1411, 1283,1461], [1272,1373, 1259,1413], [1210,1377, 1210,1410], [1079,1392, 1116,1455],
  [750,855, 752,919, 702,900], [752,919, 790,1040], [1012,889, 1045,880], [1045,880, 1030,840], [1045,880, 1060,960], [1200,1130, 1230,1220], [1080,1005, 1045,1065, 1050,1115], [1045,1065, 995,1030], [34,606, 77,634], [77,735, 135,765], [49,714, 39,745], [1219,1487, 1240,1560], [295,999, 348,980], [1175,1262, 1240,1240],
  [1256,340, 1229,467], [1227,620, 1260,640], [1450,410, 1420,470], [1380,500, 1430,600], [184,928, 164,980], [1330,880, 1400,845], [240,700, 300,660], [180,150, 165,195], [130,115, 120,140], [205,1200, 185,1170], [1245,1443, 1238,1477]
];

// the rounder cells of the not assigned part, x, y, radius in pixels
const bigCells = [
  [750,919,195],[1012,889,108],[922,973,95],[1051,987,72],[1101,894,38],[1126,994,32],[1036,1066,85],[1086,1123,36],[1046,1191,58],[947,1224,95],[872,1152,70],[775,1245,52],[683,1159,40],[621,1263,72],[718,1288,68],[549,1211,55],[487,1105,56],[582,1041,68],[611,987,48],[541,949,58],[596,949,32],[604,856,44],[549,849,28],[887,897,28],[922,847,24],[850,833,32],[922,818,22],[962,822,26],[798,1306,48],[932,1310,44],[890,1304,28],[795,1342,24],[509,1170,24],[603,1148,40],[504,1155,26],[492,1023,36],[501,987,32],[474,1008,20],[482,1055,24],[648,1059,32],[1085,797,34],
  [892,833,28],[937,826,20],[982,819,15],[1041,826,18],[997,991,22],[1002,1023,22],[957,1041,16],[947,1062,20],[977,1091,22],[944,1120,16],[977,1155,24],[1006,1263,20],[982,1274,20],[972,1295,16],[927,1274,18],[872,1263,34],[842,1274,22],[658,1313,36],[623,1320,28],[633,1191,20],[653,1213,26],[683,1191,18],[549,1155,18],[479,1152,16],[569,901,34],[559,872,16],[509,1069,18],[564,1091,20],[598,1084,26],[628,1091,22],[668,1026,18],[708,1026,16],[658,1005,20]
];
const smallCells = [
  [763,1057,24],[837,1062,24],[780,1050,10],[792,1048,12],[803,1040,10],[812,1052,11],[822,1038,10],[795,1062,8],[808,1066,8],[822,1055,7],[786,1068,7],[830,1030,8],[748,1040,14],[735,1060,12],[722,1040,14],[745,1075,10],[705,1050,16],[715,1075,12],[855,1035,14],[868,1052,12],[858,1075,10],
  [720,1185,18],[740,1165,12],[712,1160,10],[735,1195,10],[760,1195,14],[790,1180,20],[800,1210,14],[765,1165,8],[780,1150,10],[810,1175,10],[830,1195,18],[815,1225,12],[830,1240,8],[850,1215,12],[725,1220,12],[745,1215,8],[700,1200,10],[700,1220,10],[710,1240,8],[740,1235,8],[690,1115,10],[700,1130,8],[712,1120,8],[722,1105,6],[740,1120,7],[755,1105,7],[770,1130,8],[790,1115,6],
  [1115,1040,12],[1130,1030,8],[1145,1020,10],[1130,1052,14],[1150,1050,12],[1108,1062,8],[1122,1072,10],[1138,1075,14],[1155,1075,10],[1110,1090,14],[1128,1098,10],[1145,1100,8],[1105,1110,8],[1122,1118,10],[1095,1020,8],[1100,1040,8],[1090,1055,8],[1150,1095,8],[1130,1130,10],[1112,1140,12],[1095,1160,10],[1085,1175,14],[1105,1170,8],
  [937,1055,8],[945,1070,5],[930,1040,6],[942,1040,5],[980,1045,10],[970,1060,6],[955,1035,6],[1027,976,14],[534,1084,14],[514,1019,14],[544,998,14],[569,1012,12],[693,1012,12],[633,1001,12],[581,1234,14],[593,1220,14],
  [510,935,20],[520,860,14],[530,885,12],[500,905,14],[498,880,10],[516,905,9],[556,885,10],[533,845,10],[578,900,10],[575,855,10],[565,870,6],[500,950,8],[490,965,12],[516,975,12],[527,1000,9],[540,1015,14],[545,985,10],[530,1040,8],[510,1060,14],[515,1090,10],[535,1080,8],[530,1120,8],[520,1135,10],[540,1140,12],[510,1150,8],[555,1140,14],[570,1160,8],[485,1165,8],[490,1190,18],[520,1190,12],[515,1215,8],[590,1200,8],[600,1190,6],[565,1180,6],
  [827,1317,14],[848,1320,10],[862,1313,10],[877,1324,12],[897,1327,10],[907,1313,8],[827,1335,10],[848,1338,8],[872,1335,10],[897,1342,8],[917,1324,12],[980,1300,10],[1000,1285,10],[1020,1270,14],[1005,1255,8],[960,1320,14],[985,1255,6],
  [1000,822,14],[1045,822,14],[1082,850,14],[1100,835,10],[1060,845,18],[1035,850,8],[1050,762,10],[1070,752,10],[1115,785,16],[1118,755,10],
  // left cluster
  [420,1002,18],[402,1005,10],[440,1012,10],[405,1028,10],[425,1030,14],[441,1030,8],[395,1018,6],[380,1055,6],[385,1048,5],[405,1060,6],[395,1052,5],[397,1124,6],[405,1120,6],[385,1122,6],[374,1124,7],[380,1136,7],[392,1132,8],[458,1125,12],[458,1145,10],
  // translation, aminoacyl, protein folding
  [317,318,32],[285,322,10],[270,335,8],[295,345,10],[275,352,9],[305,358,8],[325,355,7],[345,340,8],[290,360,6],[265,315,6],
  [195,440,10],[210,432,8],[225,420,10],[205,455,7],[225,450,10],[190,455,6],[240,440,10],[248,420,8],[215,405,8],
  [240,520,12],[260,530,8],[248,545,6],[262,500,6],
  // peptide tagging corners
  [15,472,10],[32,472,8],[45,477,9],[55,466,8],[73,462,7],[66,477,7],[92,473,30],[20,570,9],[30,565,6],[42,568,7],[48,580,8],[20,582,6],[36,583,7],[132,590,10],[145,570,7],[160,575,6],[150,582,6],
  [148,668,16],[165,680,10],[175,668,9],[185,660,8],[195,662,6],[165,698,8],[115,655,7],[128,672,14],[102,670,12],[160,650,7],
  [22,78,18],[38,65,12],[16,92,12],[30,120,18],[15,135,14],[25,100,9],[62,65,10],[65,95,12],[50,78,6],[62,55,8],[68,80,6],[75,76,6],[85,90,8],[78,100,7],[92,85,10],[105,95,9],
  [325,810,22],[340,805,8],[305,818,10],[315,800,6],[340,825,10],[310,835,8],[325,838,6],[345,838,6],[358,815,8],[300,800,5],
  [375,795,10],[385,815,14],[378,835,8],[395,800,8],[395,830,8],[375,750,12],[390,748,8],[372,770,8],[390,768,7],
  // stress and hormone corners
  [1510,1300,12],[1525,1300,10],[1500,1330,10],[1488,1320,8],[1545,1320,8],[1555,1310,8],[1545,1290,12],
  // vesicle lower tip
  [1210,860,10],[1222,848,8],[1232,860,10],[1215,878,8],[1228,875,9],[1240,872,7],[1200,888,8],[1212,900,12],[1228,895,10],[1242,892,8],[1215,920,10],[1205,910,7],[1222,935,7],[1198,865,8],[1190,880,6],
  [1215,815,8],[1228,805,10],[1242,810,8],[1205,830,8],[1220,830,10],[1235,830,7],[1195,845,6],[1250,800,8],[1260,800,6],[1280,725,7],[1295,720,8],[1275,745,7],[1290,740,6],[1270,770,6],[1285,765,6],[1290,750,4],
  // cell group
  [1240,650,12],[1228,662,8],[1244,668,10],[1232,680,7],[1190,680,7],[1205,680,7],[1218,678,6],[1342,640,10],[1360,630,7],[1400,568,10],[1412,560,8],[1397,545,10],[1385,540,6],[1395,530,5],[1420,600,8],[1435,620,6],[1408,615,7],[1440,555,7],[1290,650,6],[1300,660,6],[1310,650,8],[1320,640,7],[1300,630,10],[1280,628,9],[1345,700,7],[1360,695,5],[1300,690,9],[1315,695,6],[1272,672,8],
  [1400,500,6],[1410,490,8],[1396,475,7],[1525,465,6],[1390,440,7],[1405,440,6],
  // specialised lower
  [1490,600,8],[1520,640,10],[1505,620,6],[1478,700,10],[1490,680,7],[1480,660,6],[1530,720,7],[1540,748,9],[1525,750,7],[1520,775,7],[1545,775,8],[1496,772,6],
  [1520,890,8],[1533,905,9],[1545,895,10],[1550,910,7],[1535,925,8],[1550,930,6],[1555,880,7],[1525,795,7],[1540,800,9],[1505,812,10],
  // RNA right part
  [399,1464,12],[385,1470,9],[410,1462,10],[395,1485,14],[415,1480,10],[430,1460,9],[440,1472,8],[425,1435,9],[437,1425,10],[427,1415,9],[440,1400,10],[440,1380,9],[355,1475,10],[340,1490,14],[370,1490,10],[355,1495,8],[330,1470,12],
  [415,1500,18],[430,1520,14],[405,1525,10],[420,1545,14],[395,1545,10],[440,1500,12],[445,1540,10],[380,1520,8],[370,1540,10],[355,1525,12],[340,1540,16],[320,1520,8],[300,1530,14],[240,1540,10],[255,1525,12],[270,1545,10],[320,1550,7],
  [285,1440,12],[280,1475,10],[295,1478,8],[265,1425,8],[295,1445,9],[285,1500,12],[295,1520,8],[440,1350,9],[430,1340,6],[445,1320,7],[440,1305,6],
  // amino acid and transport corners
  [470,1500,7],[485,1510,10],[478,1530,14],[500,1525,9],[495,1545,10],[475,1550,7],[520,1535,6],[745,1450,8],[755,1430,10],[770,1428,7],[745,1470,10],[760,1445,6],[735,1435,6],[960,1530,12],[975,1515,8],[965,1550,9],[945,1545,7],[975,1540,7],[920,1470,6],[935,1480,6],[940,1490,5],[790,1370,5],[800,1380,4],[960,1355,6],[985,1380,5],[1000,1395,6],
  [490,1520,5],[590,1500,9],[575,1520,7],[1140,1535,7],[1160,1520,6],[1145,1548,6],[1158,1548,6],[1010,1405,5],[1025,1470,7],[1015,1460,6],[1100,1480,5],[1115,1482,6]
];

// labels: text, x, y of the middle of the block, font size
const boldLabels = [
  ['photosystem\nII',836,272,66], ['not\nassigned',778,1048,95], ['RuBisCo\nactivity',548,714,52], ['photosystem\nI',993,656,36], ['temperature\nstress',1232,1335,45], ['germin',1430,1490,54],
  ['H4-\ntype\nhistone',1378,841,29.5], ['ribosomal\nprotein',231,155,36], ['organelle\nprotein\ntranslation\nmachineries',94,338,22], ['ATP\nsynthase\ncomplex',448,364,24], ['fatty\nacid\nsynthesis',1214,79,21], ['ascorbate-\nglutathione\ncycle',1365,169,20],
  ['2-Cys\nperoxiredoxin\nactivities',1444,51,14], ['PDIL',1523,226,27], ['superoxide\ndismutase\nactivities',1464,316,13], ['catalase',1501,389,20], ['cell\norganisation\nmisc.',1286,401,18], ['pectin',1323,526,30],
  ['peptide\ntagging',62,533,23], ['peptidase\nfamilies',82,698,23], ['protein folding\nand quality\ncontrol',300,540,17], ['abiotic stress\nmisc.',1244,1150,24], ['Gly\nsynthesis',515,1445,18], ['MIP\nfamily',880,1407,23], ['V-type\nATPase\ncomplex',813,1509,20], ['complex\nV',241,1296,20], ['complex\nIII',178,1382,20], ['plastidial\nglycolysis',72,1134,21], ['cytosolic\nglycolysis',98,1240,21], ['organelle\nRNA\nprocessing',352,1411,19], ['RNA\nsplicing',358,1482,19],
  ['sucrose\nsynthesis',97,912,15], ['non-\noxidative\nphase',333,898,15], ['nucleoside\ndiphosphate\nkinase',119,1524,14], ['Fe\nstorage',1515,1053,18], ['H2A-type\nhistone',1384,985,15], ['H2B-\ntype\nhistone',1468,947,12], ['lignin\nsynthesis',1509,629,14],
  ['translation\nelongation',318,421,14], ['translation\ninitiation',323,336,12], ['aminoacyl-\ntRNA\nsynthetase\nactivities',228,436,7.5], ['26S\nproteasome',205,782,13], ['protein S-\nglutathionylation\nand\ndeglutathionylation',311,667,10.5], ['protein S-\nnitrosylation\nand\ndenitrosylation',172,502,7], ['protein\npostranslational\nmodification',318,764,7], ['peptide\nmaturation',213,614,6.5], ['protein\nphosphorylation',337,827,5], ['cysteine\nprotease',31,449,4.5], ['ubiquitin',143,568,5.5], ['metalloprotease',205,847,5.5], ['protein\ntranslocation\nnucleus',110,61,6.5], ['protein\ntargeting',57,116,6.5], ['linear\nelectron\nflow',464,146,9.5], ['lipid\ntransport\nmisc.',1095,29,7], ['GDSL-motif\nlipase',1305,20,6.5], ['glutathione\nperoxidase',1286,263,7.5], ['coat\nprotein\nrecruiting',1229,716,7.5], ['coat\nprotein\ncomplex',1262,751,6], ['coat\nprotein\ncomplex',1260,818,6], ['coat\nprotein\nrecruiting',1238,851,6], ['mito. FeS\nassembly',347,1141,7], ['UDP-D-\nglucuronic\nacid\nsynthesis',24,944,6], ['C1-\nmetabolism\nmisc.',31,1040,7.5], ['glycosylase',1253,479,6], ['cell\nwall\nmisc.',1210,590,6], ['organelle\nfission',1289,682,9.5], ['DNA\nreplication',1302,641,5.5]
];
const plainLabels = [
  ['serine\nprotease',269,835,11], ['protein\ntranslocation\nchloroplast',40,36,10], ['photorespiration\nGly/Ser/Thr',400,91,8.5], ['glyceraldehyde\n3-phosphate\ndehydrogenase',436,517,10], ['sedoheptulose-\n1,7-\nbisphosphatase',764,702,4.5], ['fructose-1,6-\nbisphosphatase',817,743,5], ['NADPH-\ndependent\nmalate\ndehydrogenase',868,763,4.5], ['phosphoribulokinase',758,774,5], ['phosphopentose\nepimerase',427,830,4.5],
  ['cytochrome\nb6/f\ncomplex',1151,449,11], ['Cytb6/f\nto PS-I\nelectron\ncarriers',1177,262,6], ['chlororespiration',531,31,5], ['fatty acid\ndegradation',1218,209,10], ['phospholipase\nactivities',1256,159,6], ['glycerol\ndegradation',1169,175,4.5], ['sphingolipids',1158,154,4.5], ['steroids\nand\nsqualene',1128,116,4.5],
  ['peroxiredoxin\nactivities',1391,262,10], ['M-type\nthioredoxin',1505,130,9.5], ['GDP-D-\nmannose-\nepimerase\n(GME)',1543,169,5.5], ['X-type\nthioredoxin',1548,97,4.5], ['Redox\nmisc.',1313,317,6], ['microfilament\nnetwork',1449,464,11.5], ['actin and\ntubulin folding',1449,544,8], ['microtubular\nnetwork',1497,524,6], ['late\nembryogenesis\nabundant',1538,489,5], ['cell division\nmisc.',1443,597,7], ['chromosome\nsegregation',1371,646,10.5], ['expansins',1225,529,9.5], ['cell wall\ndegradation',1262,604,9.5], ['hydroxyproline-\nrich\nglycoproteins',1361,593,4.5], ['cutin\nand\nsuberin',1375,472,5], ['misc.\ncell\nproteins',1206,652,10.5],
  ['RAB-\nGTPase\nactivities',1176,764,9.5], ['clathrin\ntriskelion',1299,725,5],
  ['isoflavones',1431,687,9], ['chalcones',1477,723,9], ['terpenoid\nsynthesis',1541,679,8.5], ['mevalonate\npathway',1541,724,6.5], ['betaine',1541,542,6], ['alkaloid-\nlike',1544,568,7], ['dihydroflavonols',1498,745,4.5], ['histone\nmodifications',1474,773,5], ['histone\nchaperone\nactivities',1498,803,5], ['SMM &\nSMM cycle\n(C1)',1544,815,5.5], ['DNA\nreplication',1548,891,5], ['H1\nlinker\nhistone',1280,945,11], ['H3-\ntype\nhistone',1502,864,11],
  ['systemic\nacquired\nresistance\n(SAR)',1371,1050,9], ['Pathogen-\nresponse\n(PR)\nproteins',1429,1079,6], ['biotic stress\nmisc.',1455,1153,11], ['tobamovirus\nmultiplication',1474,1226,6.5], ['pathogen\neffector',1487,1265,5.5], ['heat\nstress',1460,1298,9], ['drought\nstress',1458,1352,6.5], ['cold\nstress',1003,1346,6.5], ['14-3-3\nproteins\nmisc.',1540,1220,8], ['calcium\nsignalling\nmisc.',1540,1306,8], ['nutrient\nsignalling\nmisc.',1540,1366,8],
  ['cupin\nsuperfamily\nmisc.',1234,1533,10], ['jasmonate\nsynthesis',1064,1466,9], ['auxin\nassociated\nprotein',1084,1513,10], ['CRP (cysteine\nrich-peptide)\ncategory',1142,1544,7], ['SAM to\nethylene\n(MTA\ncycle)',1160,1518,5], ['ABA\nconjugation\nand\ndegradation',1027,1548,5.5], ['ABA associated\nprotein',1015,1507,5],
  ['amino acid\ntransporter\nmisc.',772,1385,9.5], ['misc.\ntransporter',973,1433,10.5], ['MC-type\nsolute\ntransporter',913,1509,9.5], ['VHP\nPPase\nfamily',734,1545,6.5], ['VDAC voltage-\ngated anion\nchannel',965,1368,5],
  ['Lys\nsynthesis',464,1298,9], ['BCAA\nsynthesis',510,1285,6], ['Ser\nsynthesis',499,1343,9], ['Cys\nsynthesis',626,1335,8], ['Arg\nsynthesis',597,1387,10], ['Glu\nsynthesis',466,1375,6.5], ['Met\nsynthesis',561,1323,13], ['Gln\nsynthesis',673,1377,13], ['Trp/Phe/Tyr\ndegradation',710,1428,7], ['BCAA\ndegradation',697,1485,8], ['Gly/Ser/Thr\ndegradation',645,1497,6], ['Asp\nsynthesis\n&amp;\ndegradation',540,1527,6], ['GABA\ndegradation',605,1527,9], ['Tyr\nsynthesis',631,1456,5.5], ['Arg/Pro\ndegradation',678,1537,6], ['Glu/GABA\ndegradation',646,1470,5.5], ['Gly/Ser/Thr\nsynthesis\n&amp;\ndegradation',481,1520,4.5],
  ['ribonuclease\nactivities',397,1332,9.5], ['RNA\nRNA\nbinding\nmisc.',239,1483,12], ['PPR\nprotein',290,1482,7.5], ['RNA\nmodification',316,1533,5.5], ['organelle\nRNA\nmachineries',435,1505,5.5], ['Methyl binding\ndomain proteins',228,1546,5],
  ['complex\nIV',115,1327,10.5], ['complex\nII',321,1315,7], ['OXPHOS\naltNDH',255,1374,9.5], ['cyt IDH',192,1445,9], ['cyt MDH',172,1464,8], ['carbonic\nanhydrases',298,1200,10], ['methylglyoxal\ndegradation',227,1143,7], ['TCA cycle\nsuccinyl-CoA\nligase',28,1344,6.5], ['TCA cycle\nmito. IDH',23,1385,6.5], ['TCA\ncycle\nPDH\ncomplex',69,1417,6.5], ['TCA\ncycle\ncitrate\nsynthase',118,1423,5], ['TCA cycle\naconitase',121,1452,6.5], ['TCA cycle\nOGDH complex',27,1429,5],
  ['nucleotide\nsalvage\npurines',29,1473,6.5], ['purines\ndegradation',109,1476,6], ['pyrimidines\ndegradation',78,1471,4.5], ['purines\nsynthesis',30,1526,6.5], ['nucleotide\nphosphotransfer\npurines',24,1552,4.5],
  ['sucrose\ndegradation',233,910,9.5], ['starch\nsynthesis',174,889,7], ['carbohydrate\ndegradation\ncytosolic\nbranch',193,967,8], ['carbohydrate\ndegradation\nfermentation',249,1015,8], ['starch\ndegradation',276,963,6], ['beta 1,3\nglucan\nhydrolases',329,1020,10.5], ['oxidative\nphase',385,953,5.5], ['sorbitol\nmetabolism',191,1068,11], ['minor CHO\nmetabolism\nassociated\nprotein',125,1030,8.5], ['mannose\nmetabolism',75,997,6], ['C1-metabolism\nhydrolases',29,1003,6], ['galactose\nmetabolism',77,1067,6], ['malate\nsynthase',249,1085,5], ['pyruvate\northophosphate\ndikinase\nactivity',288,1076,4.5],
  ['not assigned\noxidoreductase\nacting on CH-\nCH group of\ndonor',1163,902,5.5], ['not\nassigned\nmetal\nhandling',425,873,5], ['not assigned\noxidoreductase acting\non diphenol or related\nsubstance as donor',435,922,4.5], ['not assigned\nmyrosinases-\nlectin-jacalin',416,968,4.5], ['not assigned\noxidoreductase acting\non paired donor with\nincorporation or\nreduction of molecular\noxygen',418,1018,3.6], ['thiazole\nsynthesis',415,1117,4.5], ['plastoquinone\nsynthesis',372,1097,6], ['chlorophyll\nmetabolism',397,1186,9.5], ['tetrapyrrole\nmisc.',402,1236,8.5], ['riboflavin',385,1051,3.5], ['not\nassigned\nperoxidases',1182,986,5], ['uroporphyrinogen\nIII formation',452,1205,3.5]
];

const levelWidths = [5.5, 3.2, 1.8, 0.7];
const levelColors = ['#000', '#000', '#000', 'rgba(0,0,0,0.6)'];
const levelLists = [heavyLines, mediumLines, cellLines, hairLines];

function toPoints(flat) {
  const pts = [];
  for (let i = 0; i < flat.length; i += 2) pts.push({ x: flat[i], y: flat[i + 1] });
  return pts;
}

const datasets = [];

// filled groups first, they sit at the bottom
groupShapes.forEach(function (shape, i) {
  const pts = toPoints(shape);
  pts.push(pts[0]);
  datasets.push({ data: pts, showLine: true, pointRadius: 0, borderWidth: 0, borderColor: groupColors[i], backgroundColor: groupColors[i], fill: 'shape' });
});

// round cells
[bigCells, smallCells].forEach(function (list) {
  datasets.push({
    type: 'bubble',
    data: list.map(function (c) { return { x: c[0], y: c[1], r: c[2] }; }),
    backgroundColor: 'rgba(0,0,0,0)', borderColor: '#000', borderWidth: 1.6
  });
});

// lines, finest first
for (let level = 3; level >= 0; level--) {
  levelLists[level].forEach(function (flat) {
    datasets.push({ data: toPoints(flat), showLine: true, pointRadius: 0, fill: false, borderWidth: levelWidths[level], borderColor: levelColors[level], borderCapStyle: 'round', borderJoinStyle: 'round' });
  });
}

// group borders on top of everything
groupShapes.forEach(function (shape) {
  const pts = toPoints(shape);
  pts.push(pts[0]);
  datasets.push({ data: pts, showLine: true, pointRadius: 0, fill: false, borderWidth: 9, borderColor: '#000', borderJoinStyle: 'round' });
});

// frame
datasets.push({ data: toPoints([0,0, 1568,0, 1568,1568, 0,1568, 0,0]), showLine: true, pointRadius: 0, fill: false, borderWidth: 24, borderColor: '#000' });

// later entries must paint later
datasets.forEach(function (d, i) { d.order = datasets.length - i; });

const labelPlugin = {
  id: 'labels',
  afterDatasetsDraw: function (chart) {
    const ctx = chart.ctx, sx = chart.scales.x, sy = chart.scales.y;
    const unit = sx.getPixelForValue(1) - sx.getPixelForValue(0);
    function put(list, weight) {
      list.forEach(function (l) {
        const size = l[3] * unit;
        const lines = l[0].split('\n');
        const step = size * 1.0;
        const x = sx.getPixelForValue(l[1]);
        let y = sy.getPixelForValue(l[2]) - (lines.length - 1) * step / 2 + size * 0.07;
        ctx.font = weight + ' ' + size + 'px "DejaVu Sans"';
        ctx.textAlign = 'center';
        ctx.textBaseline = 'middle';
        ctx.shadowColor = 'rgba(0,0,0,0.85)';
        ctx.shadowBlur = 0;
        ctx.shadowOffsetX = Math.max(1.2, size * 0.025);
        ctx.shadowOffsetY = Math.max(1.2, size * 0.025);
        ctx.fillStyle = '#fff';
        lines.forEach(function (t) { ctx.fillText(t, x, y); y += step; });
      });
    }
    ctx.save();
    put(plainLabels, 'normal');
    put(boldLabels, 'bold');
    ctx.restore();
  }
};

new Chart(document.getElementById('map').getContext('2d'), {
  type: 'scatter',
  data: { datasets: datasets },
  plugins: [labelPlugin],
  options: {
    responsive: false,
    animation: false,
    devicePixelRatio: 1,
    layout: { padding: 0, autoPadding: false },
    events: [],
    scales: {
      x: { type: 'linear', min: 0, max: 1568, display: false },
      y: { type: 'linear', min: 0, max: 1568, reverse: true, display: false }
    },
    plugins: { legend: { display: false }, tooltip: { enabled: false } }
  }
});
</script>
</body>
</html>
